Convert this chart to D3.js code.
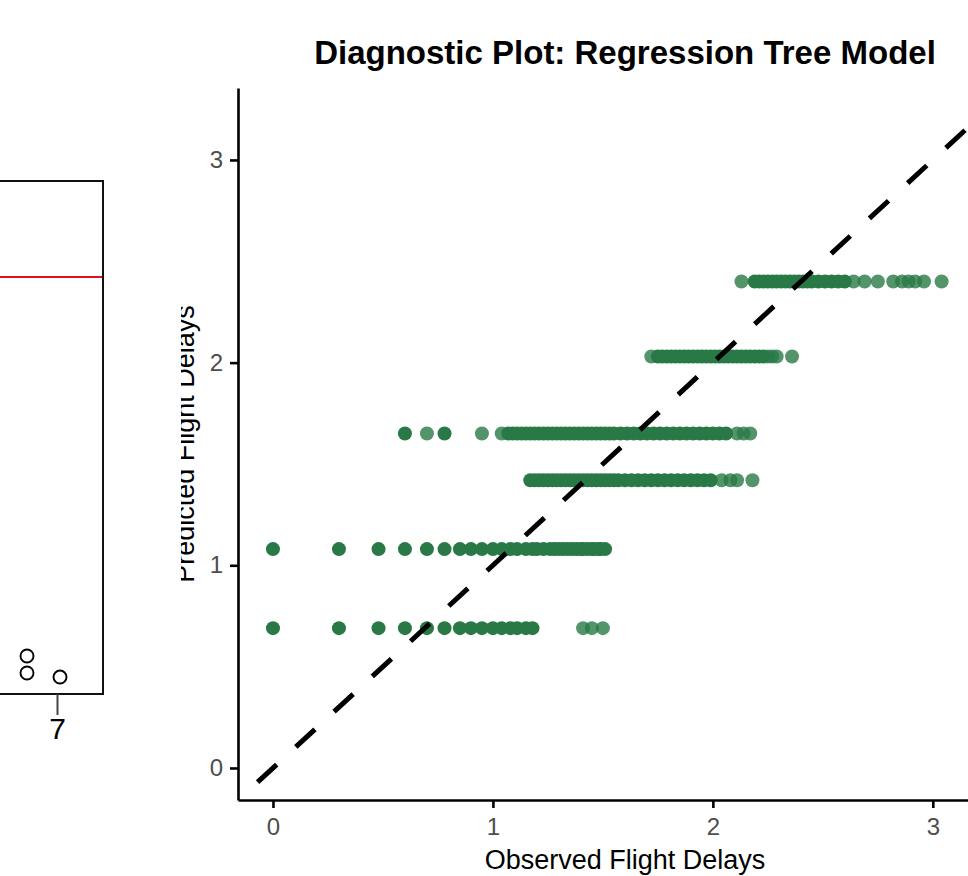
<!DOCTYPE html>
<html>
<head>
<meta charset="utf-8">
<script src="https://cdn.jsdelivr.net/npm/d3@7"></script>
<style>
  body { margin: 0; background: #fff; }
  svg { display: block; font-family: "Liberation Sans", Arial, sans-serif; }
</style>
</head>
<body>
<div id="graph"></div>
<script>
// predicted value of each tree leaf (one row of points each)
var predicted = [0.69, 1.08, 1.42, 1.65, 2.03, 2.40];

// observed values: "dense" = many overlapping cases, "lone" = single cases
var denseObs = [
  [0, 0.30, 0.48, 0.60, 0.70, 0.78, 0.85, 0.90, 0.95, 1.00, 1.04, 1.08, 1.11, 1.15, 1.18],
  [0, 0.30, 0.48, 0.60, 0.70, 0.78, 0.85, 0.90, 0.95, 1.00, 1.04, 1.08, 1.11, 1.15, 1.18,
   1.20, 1.23, 1.26, 1.28, 1.30, 1.32, 1.34, 1.36, 1.38, 1.40, 1.41, 1.43, 1.45, 1.46, 1.48, 1.49, 1.51],
  [1.17, 1.19, 1.21, 1.23, 1.25, 1.27, 1.29, 1.31, 1.33, 1.35, 1.37, 1.39, 1.41, 1.43, 1.45, 1.47,
   1.49, 1.51, 1.53, 1.55, 1.57, 1.60, 1.63, 1.66, 1.69, 1.72, 1.75, 1.78, 1.81, 1.84, 1.87, 1.90,
   1.93, 1.96, 1.99],
  [0.60, 0.78, 1.07, 1.09, 1.11, 1.13, 1.15, 1.17, 1.19, 1.21, 1.23, 1.25, 1.27, 1.29, 1.31, 1.33,
   1.35, 1.37, 1.39, 1.41, 1.43, 1.45, 1.47, 1.49, 1.51, 1.53, 1.55, 1.58, 1.61, 1.64, 1.67, 1.70,
   1.73, 1.76, 1.79, 1.82, 1.85, 1.88, 1.91, 1.94, 1.97, 2.00, 2.03, 2.06],
  [1.75, 1.77, 1.79, 1.81, 1.83, 1.85, 1.87, 1.89, 1.91, 1.93, 1.95, 1.97, 1.99, 2.01, 2.03, 2.05,
   2.07, 2.09, 2.11, 2.13, 2.15, 2.17, 2.19, 2.21, 2.23],
  [2.19, 2.21, 2.23, 2.25, 2.27, 2.29, 2.31, 2.33, 2.35, 2.37, 2.39, 2.41, 2.43, 2.45, 2.48, 2.51,
   2.54, 2.57, 2.60]
];
var loneObs = [
  [1.41, 1.45, 1.50],
  [],
  [2.04, 2.08, 2.11, 2.18],
  [0.70, 0.95, 1.04, 2.11, 2.14, 2.17],
  [1.72, 2.25, 2.27, 2.29, 2.36],
  [2.13, 2.64, 2.69, 2.75, 2.82, 2.86, 2.89, 2.92, 2.96, 3.04]
];

var xTicks = [0, 1, 2, 3],
    yTicks = [0, 1, 2, 3];
var refLine = [-0.07, 3.6];

// left (cut off) panel
var leftTick = [7];
var leftRef = 8.13;
var leftPts = [[6.0, 0.74], [6.0, 0.41], [7.1, 0.33]];

var W = 968, H = 876;
var svg = d3.select('#graph').append('svg')
    .attr('width', W)
    .attr('height', H);

var green = '#287945';
var font = '"Liberation Sans", Arial, sans-serif';

// ---------- left panel ----------
var lx = d3.scaleLinear().domain([6, 7]).range([27, 57]),
    ly = d3.scaleLinear().domain([0, 10]).range([694, 181]);

var left = svg.append('g');
left.append('rect')
    .attr('x', -20).attr('y', ly(10))
    .attr('width', 103 + 20).attr('height', ly(0) - ly(10))
    .attr('fill', 'none').attr('stroke', '#111').attr('stroke-width', 2);
left.append('line')
    .attr('x1', -20).attr('x2', 102)
    .attr('y1', ly(leftRef)).attr('y2', ly(leftRef))
    .attr('stroke', '#e3101c').attr('stroke-width', 2);
left.selectAll('.lpt').data(leftPts).enter().append('circle')
    .attr('class', 'lpt')
    .attr('cx', function(d) { return lx(d[0]); })
    .attr('cy', function(d) { return ly(d[1]); })
    .attr('r', 6.5)
    .attr('fill', 'none').attr('stroke', '#000').attr('stroke-width', 1.9);
var lax = left.append('g')
    .attr('transform', 'translate(0,' + ly(0) + ')')
    .call(d3.axisBottom(lx).tickValues(leftTick).tickSize(21).tickPadding(3).tickFormat(d3.format('d')));
lax.select('.domain').remove();
lax.selectAll('line').attr('stroke', '#444').attr('stroke-width', 2);
lax.selectAll('text').attr('fill', '#000').style('font-size', '30px').style('font-family', font);

// ---------- right panel ----------
var x = d3.scaleLinear().domain([-0.159, 3.36]).range([238, 1012]),
    y = d3.scaleLinear().domain([-0.158, 3.355]).range([800, 88]);

var pts = [];
predicted.forEach(function(p, i) {
  denseObs[i].forEach(function(o) { pts.push({ obs: o, pred: p, lone: false }); });
  loneObs[i].forEach(function(o) { pts.push({ obs: o, pred: p, lone: true }); });
});

var panel = svg.append('g');
panel.selectAll('.dot').data(pts).enter().append('circle')
    .attr('class', 'dot')
    .attr('cx', function(d) { return x(d.obs); })
    .attr('cy', function(d) { return y(d.pred); })
    .attr('r', 7)
    .attr('fill', green)
    .attr('fill-opacity', function(d) { return d.lone ? 0.8 : 1; });

svg.append('clipPath').attr('id', 'pclip')
  .append('rect').attr('x', 238).attr('y', 88).attr('width', 774).attr('height', 712);

panel.append('line')
    .attr('clip-path', 'url(#pclip)')
    .attr('x1', x(refLine[0])).attr('y1', y(refLine[0]))
    .attr('x2', x(refLine[1])).attr('y2', y(refLine[1]))
    .attr('stroke', '#000').attr('stroke-width', 5)
    .attr('stroke-dasharray', '26,26');

var fmt = d3.format('d');
var xa = svg.append('g')
    .attr('transform', 'translate(0,800)')
    .call(d3.axisBottom(x).tickValues(xTicks).tickFormat(fmt).tickSize(8).tickPadding(10).tickSizeOuter(0));
var ya = svg.append('g')
    .attr('transform', 'translate(238,0)')
    .call(d3.axisLeft(y).tickValues(yTicks).tickFormat(fmt).tickSize(8).tickPadding(7).tickSizeOuter(0));

[xa, ya].forEach(function(a) {
  a.select('.domain').attr('stroke', '#000').attr('stroke-width', 2.6);
  a.selectAll('.tick line').attr('stroke', '#000').attr('stroke-width', 2.6);
  a.selectAll('.tick text').attr('fill', '#4d4d4d')
      .style('font-size', '24px')
      .style('font-family', font);
});

svg.append('text')
    .attr('x', 625).attr('y', 64)
    .attr('text-anchor', 'middle')
    .style('font-size', '33px').style('font-weight', 'bold')
    .text('Diagnostic Plot: Regression Tree Model');

svg.append('text')
    .attr('x', 625).attr('y', 869)
    .attr('text-anchor', 'middle')
    .style('font-size', '27px')
    .text('Observed Flight Delays');

svg.append('clipPath').attr('id', 'lclip')
  .append('rect').attr('x', 181).attr('y', 0).attr('width', 100).attr('height', H);

svg.append('g').attr('clip-path', 'url(#lclip)')
  .append('text')
    .attr('transform', 'translate(194,444) rotate(-90)')
    .attr('text-anchor', 'middle')
    .style('font-size', '27px')
    .text('Predicted Flight Delays');
</script>
</body>
</html>
